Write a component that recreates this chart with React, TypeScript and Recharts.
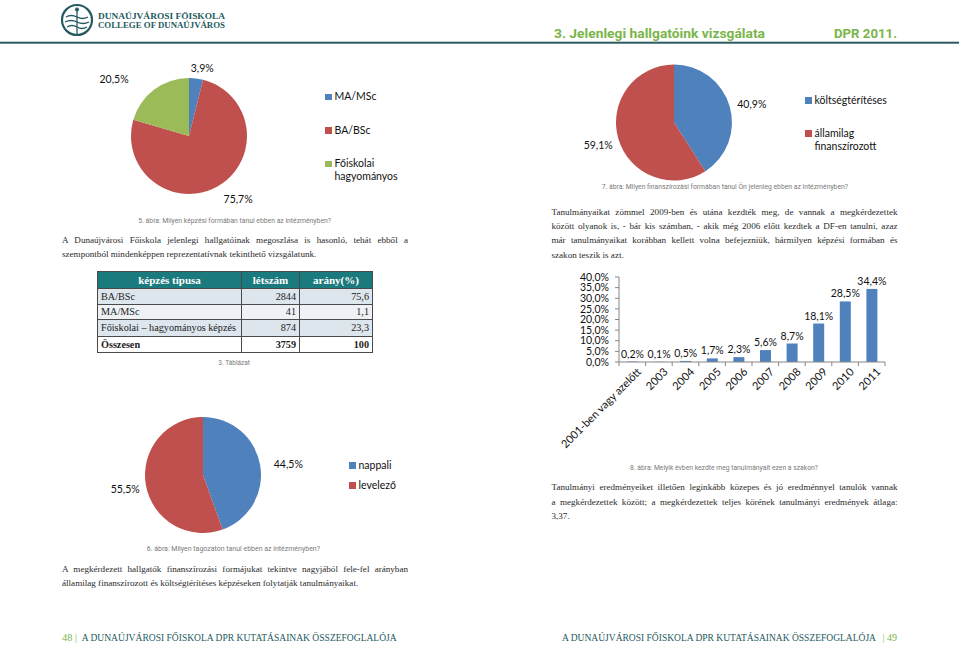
import React from 'react';
import { PieChart, Pie, Cell, Legend, BarChart, Bar, XAxis, YAxis, LabelList } from 'recharts';

const BLUE = '#4f81bd';
const RED = '#c0504d';
const GREEN = '#9bbb59';
const TEAL = '#245a60';
const HEAD_GREEN = '#7ab54a';
const CAPTION = '#7a7a7a';
const BODY = '#2a2a2a';

// 5. ábra – képzési forma
const formNames = ['MA/MSc', 'BA/BSc', 'Főiskolai hagyományos'];
const formValues = [3.9, 75.7, 20.5];
const formColors = [BLUE, RED, GREEN];

// 7. ábra – finanszírozási forma
const financeNames = ['költségtérítéses', 'államilag finanszírozott'];
const financeValues = [40.9, 59.1];
const financeColors = [BLUE, RED];

// 6. ábra – tagozat
const scheduleNames = ['nappali', 'levelező'];
const scheduleValues = [44.5, 55.5];
const scheduleColors = [BLUE, RED];

// 8. ábra – kezdés éve
const startYears = ['2001-ben vagy azelőtt', '2003', '2004', '2005', '2006', '2007', '2008', '2009', '2010', '2011'];
const startShares = [0.2, 0.1, 0.5, 1.7, 2.3, 5.6, 8.7, 18.1, 28.5, 34.4];
const shareTicks = [0, 5, 10, 15, 20, 25, 30, 35, 40];

// 3. Táblázat
const tableHead = ['képzés típusa', 'létszám', 'arány(%)'];
const tableTypes = ['BA/BSc', 'MA/MSc', 'Főiskolai – hagyományos képzés', 'Összesen'];
const tableCounts = ['2844', '41', '874', '3759'];
const tableShares = ['75,6', '1,1', '23,3', '100'];

const para1 = [
  'A Dunaújvárosi Főiskola jelenlegi hallgatóinak megoszlása is hasonló, tehát ebből a',
  'szempontból mindenképpen reprezentatívnak tekinthető vizsgálatunk.',
];
const para2 = [
  'A megkérdezett hallgatók finanszírozási formájukat tekintve nagyjából fele-fel arányban',
  'államilag finanszírozott és költségtérítéses képzéseken folytatják tanulmányaikat.',
];
const para3 = [
  'Tanulmányaikat zömmel 2009-ben és utána kezdték meg, de vannak a megkérdezettek',
  'között olyanok is, - bár kis számban, - akik még 2006 előtt kezdtek a DF-en tanulni, azaz',
  'már tanulmányaikat korábban kellett volna befejezniük, bármilyen képzési formában és',
  'szakon teszik is azt.',
];
const para4 = [
  'Tanulmányi eredményeiket illetően leginkább közepes és jó eredménnyel tanulók vannak',
  'a megkérdezettek között; a megkérdezettek teljes körének tanulmányi eredmények átlaga:',
  '3,37.',
];

const FOOTER = 'A DUNAÚJVÁROSI FŐISKOLA DPR KUTATÁSAINAK ÖSSZEFOGLALÓJA';

const RAD = Math.PI / 180;
const pct = (v: any) => `${Number(v).toFixed(1).replace('.', ',')}%`;
const toRows = (names: string[], values: number[]) => names.map((name, i) => ({ name, value: values[i] }));

type Nudge = { dr: number; da: number };

const makeLabel = (nudges: Nudge[]) => (p: any) => {
  const n = nudges[p.index] || { dr: 20, da: 0 };
  const a = (p.midAngle + n.da) * RAD;
  const r = p.outerRadius + n.dr;
  return (
    <text x={p.cx + r * Math.cos(a)} y={p.cy - r * Math.sin(a)} textAnchor="middle" dominantBaseline="central"
      fontFamily="Lato" fontSize={10.5} fill="#111">
      {pct(p.value)}
    </text>
  );
};

const makeLegend = (names: string[], colors: string[], width: number, gap: number) => () => (
  <div style={{ width, fontFamily: 'Lato', fontSize: 10.5, lineHeight: '13px', color: '#111' }}>
    {names.map((n, i) => (
      <div key={n} style={{ display: 'flex', alignItems: 'flex-start', marginBottom: gap }}>
        <span style={{ width: 6.5, height: 6.5, background: colors[i], marginTop: 3.5, marginRight: 3, flex: 'none' }} />
        <span>{n}</span>
      </div>
    ))}
  </div>
);

const PieBlock = (props: any) => {
  const { names, values, colors, left, top, width, height, cx, cy, nudges, legendLeft, legendTop, legendWidth, legendGap } = props;
  return (
    <div style={{ position: 'absolute', left, top }}>
      <PieChart width={width} height={height} margin={{ top: 0, right: 0, bottom: 0, left: 0 }}>
        <Pie data={toRows(names, values)} dataKey="value" nameKey="name" cx={cx} cy={cy} outerRadius={58}
          startAngle={90} endAngle={-270} stroke="none" label={makeLabel(nudges)} labelLine={false}
          isAnimationActive={false}>
          {names.map((n: string, i: number) => <Cell key={n} fill={colors[i]} />)}
        </Pie>
        <Legend layout="vertical" align="right" verticalAlign="middle"
          content={makeLegend(names, colors, legendWidth, legendGap)}
          wrapperStyle={{ left: legendLeft, top: legendTop }} />
      </PieChart>
    </div>
  );
};

const YearTick = (p: any) => {
  const { x, y, payload, index, visibleTicksCount } = p;
  const off = payload.offset || 0;
  return (
    <g>
      <line x1={x - off} x2={x - off} y1={y - 4} y2={y} stroke="#868686" />
      {index === visibleTicksCount - 1 && <line x1={x + off} x2={x + off} y1={y - 4} y2={y} stroke="#868686" />}
      <text x={x + 4} y={y + 1} transform={`rotate(-45 ${x + 4} ${y + 1})`} textAnchor="end" dy="0.72em"
        fontFamily="Lato" fontSize={11} fill="#111">
        {payload.value}
      </text>
    </g>
  );
};

const StartChart = () => {
  const data = startYears.map((year, i) => ({ year, share: startShares[i] }));
  return (
    <div style={{ position: 'absolute', left: 540, top: 265 }}>
      <BarChart width={420} height={200} data={data} margin={{ top: 12, right: 75, bottom: 0, left: 0 }}>
        <XAxis dataKey="year" interval={0} height={103} tickLine={false} tickSize={4} tickMargin={0}
          axisLine={{ stroke: '#868686' }} tick={<YearTick />} />
        <YAxis width={79} domain={[0, 40]} ticks={shareTicks} interval={0} tickFormatter={pct}
          axisLine={{ stroke: '#868686' }} tickLine={{ stroke: '#868686' }} tickSize={4} tickMargin={6}
          tick={{ fontFamily: 'Lato', fontSize: 10.5, fill: '#111' }} />
        <Bar dataKey="share" fill={BLUE} barSize={11} isAnimationActive={false}>
          <LabelList dataKey="share" position="top" offset={4} formatter={pct}
            style={{ fontFamily: 'Lato', fontSize: 10.5, fill: '#111' }} />
        </Bar>
      </BarChart>
    </div>
  );
};

const Para = ({ lines, left, top, width, step }: { lines: string[]; left: number; top: number; width: number; step: number }) => (
  <>
    {lines.map((l, i) => (
      <div key={i} style={{
        position: 'absolute', left, top: top + i * step - step / 2, width, height: step, lineHeight: `${step}px`,
        fontFamily: '"Liberation Serif"', fontSize: 9.1, color: BODY,
        textAlign: 'justify', textAlignLast: i === lines.length - 1 ? 'left' : 'justify',
      }}>{l}</div>
    ))}
  </>
);

const Caption = ({ x, y, w, children }: any) => (
  <text x={x} y={y} textLength={w} lengthAdjust="spacingAndGlyphs"
    fontFamily="Roboto" fontSize={7} fill={CAPTION}>{children}</text>
);

const FooterText = ({ x, y, w, fill, children }: any) => (
  <text x={x} y={y} textLength={w} lengthAdjust="spacingAndGlyphs" fontFamily="Liberation Serif"
    fontSize={9.3} fill={fill}>{children}</text>
);

const PageText = () => (
  <svg width={959} height={646} style={{ position: 'absolute', left: 0, top: 0 }}>
    {/* logo */}
    <g stroke={TEAL} fill="none">
      <circle cx={77} cy={20} r={15} strokeWidth={2.2} />
      <path d="M66 17 Q71 14 77 17 Q83 20 88 17" strokeWidth={1.3} />
      <path d="M65 22 Q71 19 77 22 Q83 25 89 22" strokeWidth={1.3} />
      <path d="M67 27 Q72 24 77 27 Q82 30 87 27" strokeWidth={1.3} />
      <line x1={77} y1={9} x2={77} y2={34} strokeWidth={1.3} />
      <circle cx={77} cy={9.5} r={1.6} fill={TEAL} />
    </g>
    <text x={98} y={18.5} textLength={127} lengthAdjust="spacingAndGlyphs" fontFamily="Liberation Serif"
      fontWeight="bold" fontSize={8} fill={TEAL}>DUNAÚJVÁROSI FŐISKOLA</text>
    <text x={98} y={28} textLength={127} lengthAdjust="spacingAndGlyphs" fontFamily="Liberation Serif"
      fontWeight="bold" fontSize={8} fill={TEAL}>COLLEGE OF DUNAÚJVÁROS</text>
    <text x={554} y={37.6} textLength={211} lengthAdjust="spacingAndGlyphs" fontFamily="Roboto"
      fontWeight="bold" fontSize={12.5} fill={HEAD_GREEN}>3. Jelenlegi hallgatóink vizsgálata</text>
    <text x={834} y={37.6} textLength={63} lengthAdjust="spacingAndGlyphs" fontFamily="Roboto"
      fontWeight="bold" fontSize={12.5} fill={HEAD_GREEN}>DPR 2011.</text>
    <rect x={0} y={41.7} width={959} height={2} fill="#2b5a62" />

    <Caption x={138.3} y={223.2} w={192.7}>5. ábra: Milyen képzési formában tanul ebben az intézményben?</Caption>
    <Caption x={601.7} y={189.2} w={246.3}>7. ábra: Milyen finanszírozási formában tanul Ön jelenleg ebben az intézményben?</Caption>
    <Caption x={146.7} y={551.2} w={173.3}>6. ábra: Milyen tagozaton tanul ebben az intézményben?</Caption>
    <Caption x={630} y={470.2} w={188}>8. ábra: Melyik évben kezdte meg tanulmányait ezen a szakon?</Caption>
    <Caption x={218.3} y={365.2} w={31.7}>3. Táblázat</Caption>

    <FooterText x={62} y={640.8} w={15} fill={HEAD_GREEN}>48 |</FooterText>
    <FooterText x={81.7} y={640.8} w={315} fill={TEAL}>{FOOTER}</FooterText>
    <FooterText x={562} y={640.8} w={314} fill={TEAL}>{FOOTER}</FooterText>
    <FooterText x={882.5} y={640.8} w={14.5} fill={HEAD_GREEN}>| 49</FooterText>
  </svg>
);

const cell = (extra: React.CSSProperties): React.CSSProperties => ({
  border: '1px solid #4a4a4a', padding: '0 3px', whiteSpace: 'nowrap', ...extra,
});

const rowHeights = [15.7, 15, 16.7, 16];

const Table = () => (
  <table style={{
    position: 'absolute', left: 97, top: 271, width: 275, borderCollapse: 'collapse',
    fontFamily: '"Liberation Serif"', fontSize: 10.2, color: '#222', tableLayout: 'fixed',
  }}>
    <colgroup><col style={{ width: 144 }} /><col style={{ width: 58 }} /><col style={{ width: 73 }} /></colgroup>
    <thead>
      <tr style={{ height: 17.3, background: '#1b7a7e', color: '#fff' }}>
        {tableHead.map(h => <th key={h} style={cell({ textAlign: 'center', fontSize: 11 })}>{h}</th>)}
      </tr>
    </thead>
    <tbody>
      {tableTypes.map((t, i) => {
        const last = i === tableTypes.length - 1;
        const bg = i % 2 === 0 ? '#dde5ed' : '#eef2f6';
        return (
          <tr key={t} style={{ height: rowHeights[i], background: last ? '#fff' : bg, fontWeight: last ? 'bold' : 'normal' }}>
            <td style={cell({ textAlign: 'left' })}>{t}</td>
            <td style={cell({ textAlign: 'right' })}>{tableCounts[i]}</td>
            <td style={cell({ textAlign: 'right' })}>{tableShares[i]}</td>
          </tr>
        );
      })}
    </tbody>
  </table>
);

export default function App() {
  return (
    <div style={{ position: 'absolute', left: 0, top: 0, width: 959, height: 646, background: '#fff', overflow: 'hidden' }}>
      <PageText />
      <Para lines={para1} left={62} top={240} width={346} step={14} />
      <Para lines={para2} left={62} top={569} width={346} step={14} />
      <Para lines={para3} left={551.5} top={212} width={346} step={14.3} />
      <Para lines={para4} left={551.5} top={487.5} width={346} step={14.5} />
      <Table />
      <PieBlock names={formNames} values={formValues} colors={formColors}
        left={60} top={55} width={400} height={165} cx={129} cy={81}
        nudges={[{ dr: 11, da: -4 }, { dr: 22, da: 8 }, { dr: 36, da: 16 }]}
        legendLeft={265} legendTop={35} legendWidth={75} legendGap={20.5} />
      <PieBlock names={financeNames} values={financeValues} colors={financeColors}
        left={560} top={55} width={399} height={130} cx={114} cy={67.5}
        nudges={[{ dr: 22, da: -3 }, { dr: 21, da: 0 }]}
        legendLeft={245} legendTop={38.5} legendWidth={90} legendGap={20.3} />
      <PieBlock names={scheduleNames} values={scheduleValues} colors={scheduleColors}
        left={100} top={405} width={380} height={135} cx={103} cy={70}
        nudges={[{ dr: 28, da: -2.5 }, { dr: 21, da: 0 }]}
        legendLeft={249} legendTop={53.5} legendWidth={80} legendGap={7} />
      <StartChart />
    </div>
  );
}
